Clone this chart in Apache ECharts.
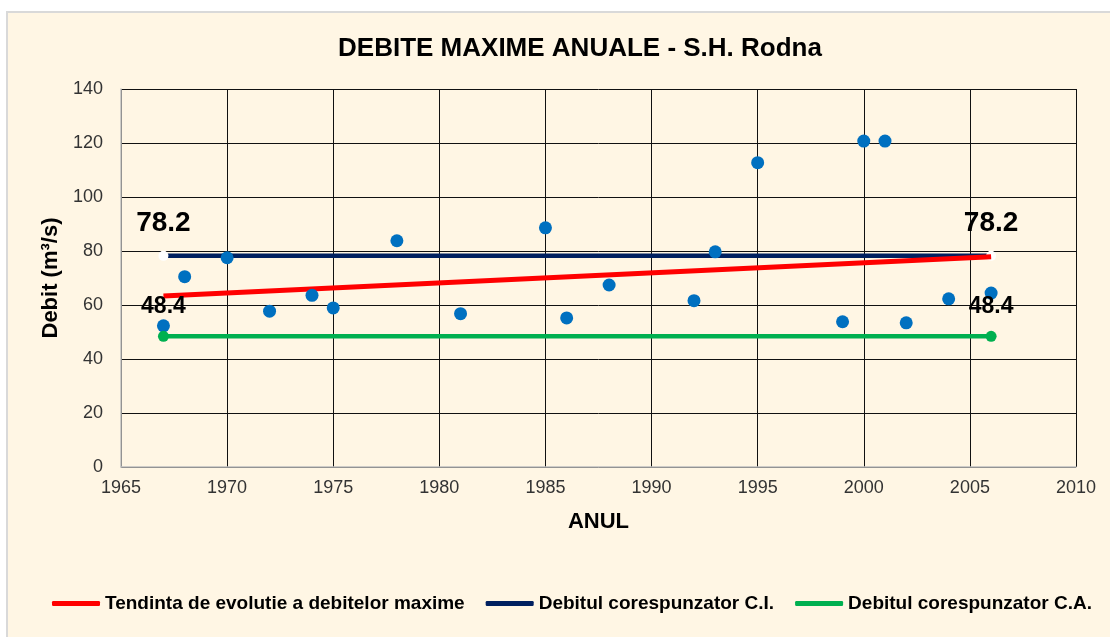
<!DOCTYPE html>
<html>
<head>
<meta charset="utf-8">
<script src="https://cdn.jsdelivr.net/npm/echarts@6/dist/echarts.min.js"></script>
<style>
html,body{margin:0;padding:0;background:#fff;}
#chart{width:1110px;height:637px;}
</style>
</head>
<body>
<div id="chart"></div>
<script>
// ---- data ----
const years = [1967, 1968, 1970, 1972, 1974, 1975, 1978, 1981, 1985, 1986, 1988, 1992, 1993, 1995, 1999, 2000, 2001, 2002, 2004, 2006];
const debits = [52.3, 70.5, 77.5, 57.7, 63.6, 58.9, 83.8, 56.8, 88.6, 55.2, 67.4, 61.6, 79.7, 112.7, 53.8, 120.7, 120.7, 53.4, 62.3, 64.4];
const trendYears = [1967, 2006];
const trendValues = [63.3, 77.9];
const refYears = [1967, 2006];
const ciValues = [78.2, 78.2];
const caValues = [48.4, 48.4];
const seriesNames = ['Tendinta de evolutie a debitelor maxime', 'Debitul corespunzator C.I.', 'Debitul corespunzator C.A.'];
const titleText = 'DEBITE MAXIME ANUALE - S.H. Rodna';
const xAxisName = 'ANUL';
const yAxisName = 'Debit (m³/s)';

const FONT = '"Liberation Sans", Arial, sans-serif';
const zip = (a, b) => a.map((v, i) => [v, b[i]]);

const chart = echarts.init(document.getElementById('chart'));
chart.setOption({
  backgroundColor: '#ffffff',
  animation: false,
  graphic: [{
    type: 'rect', z: -10, silent: true,
    shape: { x: 7, y: 12, width: 1120, height: 640 },
    style: { fill: '#FFF6E4', stroke: '#D9D9D9', lineWidth: 2 }
  }],
  title: {
    text: titleText, left: 575, top: 31, textAlign: 'center',
    textStyle: { fontFamily: FONT, fontSize: 26, fontWeight: 'bold', color: '#000' }
  },
  grid: { left: 121, right: 34, top: 89, bottom: 170, containLabel: false },
  xAxis: {
    type: 'value', min: 1965, max: 2010, interval: 5,
    name: xAxisName, nameLocation: 'middle', nameGap: 44,
    nameTextStyle: { fontFamily: FONT, fontSize: 22, fontWeight: 'bold', color: '#000' },
    axisLine: { show: true, lineStyle: { color: '#BFBFBF', width: 1.5 } },
    axisTick: { show: false },
    axisLabel: { fontFamily: FONT, fontSize: 18, color: '#333', margin: 12, formatter: v => String(v) },
    splitLine: { show: true, lineStyle: { color: '#111', width: 1 } }
  },
  yAxis: {
    type: 'value', min: 0, max: 140, interval: 20,
    name: yAxisName, nameLocation: 'middle', nameGap: 55, nameRotate: 90,
    nameTextStyle: { fontFamily: FONT, fontSize: 22, fontWeight: 'bold', color: '#000' },
    axisLine: { show: true, lineStyle: { color: '#BFBFBF', width: 1.5 } },
    axisTick: { show: false },
    axisLabel: { fontFamily: FONT, fontSize: 18, color: '#333', margin: 18 },
    splitLine: { show: true, lineStyle: { color: '#111', width: 1 } }
  },
  legend: {
    left: 47, top: 589, itemWidth: 48, itemHeight: 5, itemGap: 21,
    icon: 'roundRect',
    data: seriesNames,
    textStyle: { fontFamily: FONT, fontSize: 19, fontWeight: 'bold', color: '#000' }
  },
  series: [
    {
      name: seriesNames[0], type: 'line', z: 3,
      data: zip(trendYears, trendValues),
      showSymbol: false, symbol: 'none',
      lineStyle: { color: '#FF0000', width: 5 },
      itemStyle: { color: '#FF0000' }
    },
    {
      name: seriesNames[1], type: 'line', z: 2,
      data: zip(refYears, ciValues).map(v => ({ value: v, itemStyle: { color: '#FFFFFF' } })),
      symbol: 'circle', symbolSize: 10, showSymbol: true,
      lineStyle: { color: '#002060', width: 4.5 },
      itemStyle: { color: '#002060' },
      label: {
        show: true, position: 'top', distance: 14,
        formatter: p => p.value[1].toFixed(1),
        fontFamily: FONT, fontSize: 28, fontWeight: 'bold', color: '#000'
      }
    },
    {
      name: 'Debite', type: 'scatter', z: 4,
      data: zip(years, debits),
      symbol: 'circle', symbolSize: 13,
      itemStyle: { color: '#0070C0', opacity: 1 }
    },
    {
      name: seriesNames[2], type: 'line', z: 5,
      data: zip(refYears, caValues),
      symbol: 'circle', symbolSize: 11, showSymbol: true,
      lineStyle: { color: '#00B050', width: 4.5 },
      itemStyle: { color: '#00B050' },
      label: {
        show: true, position: 'top', distance: 13,
        formatter: p => p.value[1].toFixed(1),
        fontFamily: FONT, fontSize: 23, fontWeight: 'bold', color: '#000'
      }
    }
  ]
});
</script>
</body>
</html>
